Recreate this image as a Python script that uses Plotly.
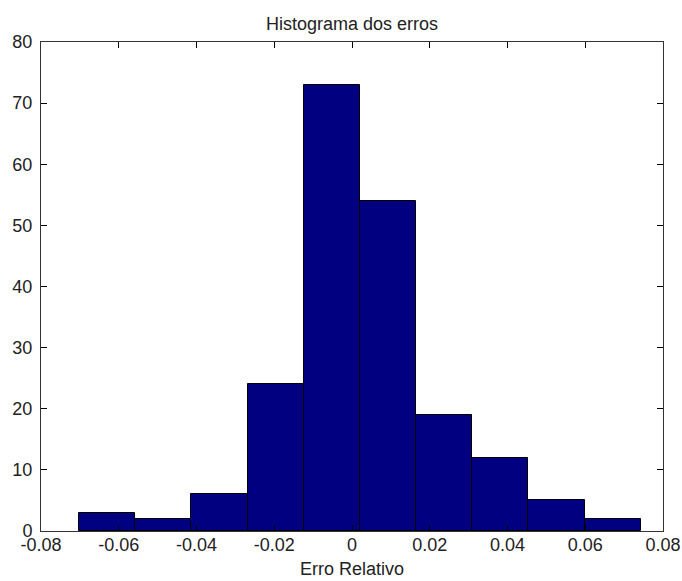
import plotly.graph_objects as go

bin_centers = [-0.06298, -0.04853, -0.03408, -0.01963, -0.00518, 0.00927, 0.02372, 0.03817, 0.05262, 0.06707]
counts = [3, 2, 6, 24, 73, 54, 19, 12, 5, 2]
bin_width = 0.01445
x_ticks = [-0.08, -0.06, -0.04, -0.02, 0, 0.02, 0.04, 0.06, 0.08]
x_tick_labels = ["-0.08", "-0.06", "-0.04", "-0.02", "0", "0.02", "0.04", "0.06", "0.08"]
y_ticks = [0, 10, 20, 30, 40, 50, 60, 70, 80]

fig = go.Figure(go.Bar(
    x=bin_centers, y=counts, width=[bin_width] * len(counts),
    marker=dict(color="#000080", line=dict(color="black", width=1)),
))

font = dict(family="Liberation Sans, Arial, sans-serif", size=18, color="#222222")
fig.update_layout(
    width=682, height=581,
    margin=dict(l=41, r=19, t=42, b=50),
    paper_bgcolor="white", plot_bgcolor="white",
    font=font,
    showlegend=False,
    bargap=0,
    title=dict(text="Histograma dos erros", x=0.5, xref="paper", y=1 - 24 / 581, yref="container",
               xanchor="center", yanchor="middle", font=font, automargin=False),
    xaxis=dict(range=[-0.08, 0.08], tickvals=x_ticks, ticktext=x_tick_labels, automargin=False,
               ticks="inside", ticklen=6, tickcolor="black", showline=True, linecolor="#333333",
               linewidth=1, mirror="ticks", showgrid=False, zeroline=False, ticklabelstandoff=-3,
               title=dict(text="Erro Relativo", standoff=8, font=font)),
    yaxis=dict(range=[0, 80], tickvals=y_ticks, automargin=False,
               ticks="inside", ticklen=6, tickcolor="black", showline=True, linecolor="#333333",
               linewidth=1, mirror="ticks", showgrid=False, zeroline=False, ticklabelstandoff=4),
)

fig.write_html("out.html", config={"displayModeBar": False},
               post_script="document.body.style.margin='0';document.body.style.overflow='hidden';")
